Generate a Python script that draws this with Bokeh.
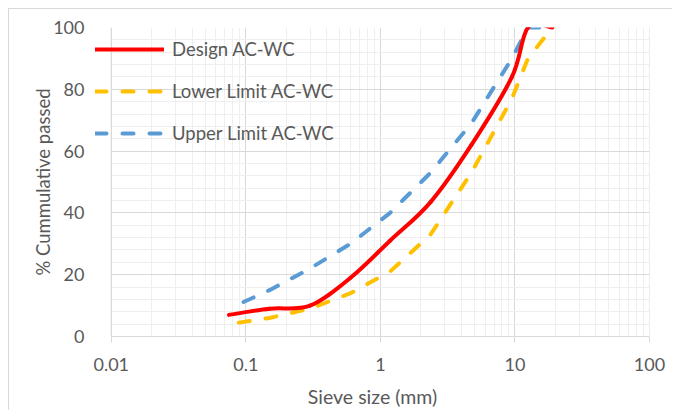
import math
from bokeh.plotting import figure
from bokeh.models import (FixedTicker, SingleIntervalTicker, Legend, LegendItem, Range1d,
                          BoxAnnotation, Span, Grid)
from bokeh.embed import file_html
from bokeh.resources import INLINE

# ---- data ----
sieve = [0.075, 0.15, 0.3, 0.6, 1.18, 2.36, 4.75, 9.5, 12.5, 19]
design = [7, 9, 10, 19, 31, 43.5, 62, 84, 100, 100]
lower = [4, 6, 9, 14, 21, 33, 53, 77, 90, 100]
upper = [9, 15, 22, 30, 40, 53, 69, 90, 100, 100]

x_major = [0.01, 0.1, 1, 10, 100]
x_labels = ["0.01", "0.1", "1", "10", "100"]
x_minor = [m * d for d in [0.01, 0.1, 1, 10] for m in range(2, 10)]

FONT = "Lato"
TXT = "#595959"
GRID = "#d9d9d9"
MINOR = "#efefef"

# frame extends ~15.7px left of 0.01 so the legend keys can overhang the axis
X_START = 0.00764

p = figure(width=664, height=402, x_axis_type="log",
           x_range=Range1d(X_START, 100), y_range=Range1d(0, 100),
           output_backend="svg", toolbar_location=None,
           min_border_left=86, min_border_right=24,
           min_border_top=18, min_border_bottom=75)
p.styles = {"margin-left": "8px", "margin-top": "8px",
            "border-left": "1px solid #d9d9d9", "border-top": "1px solid #d9d9d9"}
p.outline_line_color = None
p.background_fill_color = "white"
p.border_fill_color = "white"
p.extra_y_ranges = {"legend_proxy": Range1d(1000, 2000)}

# axes
xa = p.xaxis[0]
xa.ticker = FixedTicker(ticks=x_major, minor_ticks=x_minor)
xa.major_label_overrides = dict(zip(x_major, x_labels))
xa.bounds = (x_major[0], x_major[-1])
xa.axis_line_color = GRID
xa.major_tick_line_color = GRID
xa.major_tick_out = 6
xa.major_tick_in = 0
xa.minor_tick_line_color = None
xa.major_label_text_font = FONT
xa.major_label_text_font_size = "18px"
xa.major_label_text_color = TXT
xa.major_label_standoff = 15
xa.axis_label = "Sieve size (mm)"
xa.axis_label_text_font = FONT
xa.axis_label_text_font_size = "19.5px"
xa.axis_label_text_font_style = "normal"
xa.axis_label_text_color = TXT
xa.axis_label_standoff = 11

ya = p.yaxis[0]
ya.ticker = SingleIntervalTicker(interval=20, num_minor_ticks=5)
ya.axis_line_color = None
ya.major_tick_line_color = None
ya.minor_tick_line_color = None
ya.major_label_text_font = FONT
ya.major_label_text_font_size = "18px"
ya.major_label_text_color = TXT
ya.major_label_standoff = 5
ya.axis_label = "% Cummulative passed"
ya.axis_label_text_font = FONT
ya.axis_label_text_font_size = "18.5px"
ya.axis_label_text_font_style = "normal"
ya.axis_label_text_color = TXT
ya.axis_label_standoff = -4

p.xgrid.grid_line_color = GRID
p.ygrid.grid_line_color = GRID
p.xgrid.minor_grid_line_color = MINOR
p.ygrid.minor_grid_line_color = MINOR
p.xgrid.bounds = (x_major[0], x_major[-1])

has_cross = "cross_bounds" in Grid.properties()
if has_cross:
    p.ygrid.cross_bounds = (x_major[0], x_major[-1])
else:
    p.add_layout(BoxAnnotation(right=x_major[0], fill_color="white", fill_alpha=1,
                               line_color=None))
# plot-area borders
p.add_layout(Span(location=x_major[0], dimension="height", line_color=GRID, line_width=1))
p.add_layout(Span(location=x_major[-1], dimension="height", line_color=GRID, line_width=1))

# smooth design curve (Excel-like smoothing via cubic Bezier in log-x space)
lx = [math.log10(v) for v in sieve]
n = len(sieve)
bx0, by0, bx1, by1, cx0, cy0, cx1, cy1 = [], [], [], [], [], [], [], []
for i in range(n - 1):
    ip = max(i - 1, 0)
    inn = min(i + 2, n - 1)
    bx0.append(sieve[i]); by0.append(design[i])
    bx1.append(sieve[i + 1]); by1.append(design[i + 1])
    cx0.append(10 ** (lx[i] + (lx[i + 1] - lx[ip]) / 6))
    cy0.append(design[i] + (design[i + 1] - design[ip]) / 6)
    cx1.append(10 ** (lx[i + 1] - (lx[inn] - lx[i]) / 6))
    cy1.append(design[i + 1] - (design[inn] - design[i]) / 6)

r_low = p.line(sieve, lower, line_color="#FFC000", line_width=4,
               line_dash="11 16", line_dash_offset=17, line_cap="round")
r_up = p.line(sieve, upper, line_color="#5B9BD5", line_width=4,
              line_dash="11 16", line_dash_offset=11, line_cap="round")
r_des = p.bezier(x0=bx0, y0=by0, x1=bx1, y1=by1, cx0=cx0, cy0=cy0, cx1=cx1, cy1=cy1,
                 line_color="#FF0000", line_width=4, line_cap="round")

# legend proxies (same styling, dash pattern starting with a dash)
l_low = p.line(sieve, lower, y_range_name="legend_proxy", line_color="#FFC000",
               line_width=4, line_dash="11 16", line_cap="round")
l_up = p.line(sieve, upper, y_range_name="legend_proxy", line_color="#5B9BD5",
              line_width=4, line_dash="11 16", line_cap="round")

legend = Legend(items=[LegendItem(label="Design AC-WC", renderers=[r_des]),
                       LegendItem(label="Lower Limit AC-WC", renderers=[l_low]),
                       LegendItem(label="Upper Limit AC-WC", renderers=[l_up])],
                location=(0, 192), orientation="vertical",
                glyph_width=69, glyph_height=20, label_height=20, spacing=20,
                label_standoff=8, padding=0, margin=0,
                border_line_color=None, background_fill_alpha=0,
                label_text_font=FONT, label_text_font_size="18.5px",
                label_text_color=TXT)
p.add_layout(legend, "center")

open("out.html", "w").write(file_html(p, INLINE))
